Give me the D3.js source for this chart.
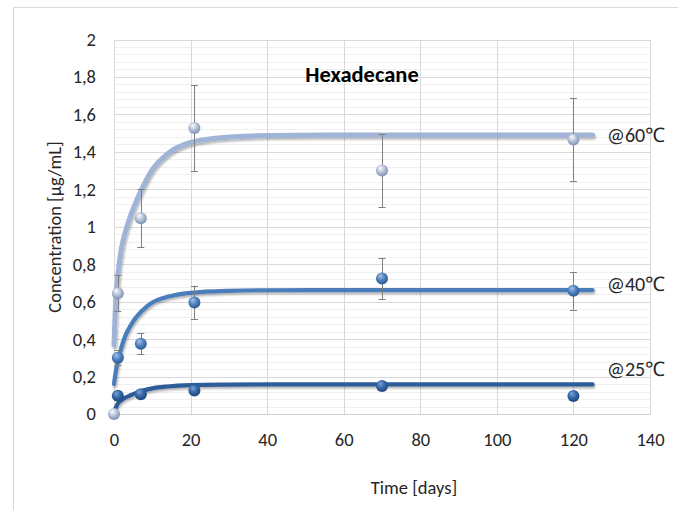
<!DOCTYPE html>
<html>
<head>
<meta charset="utf-8">
<script src="https://cdn.jsdelivr.net/npm/d3@7"></script>
<style>
  body { margin: 0; background: #fff; }
  svg { display: block; font-family: Calibri, Carlito, Lato, "Open Sans", sans-serif; }
</style>
</head>
<body>
<div id="chart"></div>
<script>
// measured points (days, concentration, +/- error)
const days = [0, 1, 7, 21, 70, 120];
const conc60 = [0, 0.645, 1.045, 1.527, 1.30, 1.466];
const err60 = [0, 0.096, 0.155, 0.23, 0.195, 0.22];
const conc40 = [null, 0.30, 0.375, 0.595, 0.724, 0.658];
const err40 = [0, 0.04, 0.055, 0.09, 0.11, 0.10];
const conc25 = [null, 0.097, 0.105, 0.125, 0.149, 0.096];

// fitted curves
const fitDays = [0, 0.5, 1, 2, 3, 4, 5, 7, 10, 14, 20, 30, 40, 60, 125];
const fit60 = [0.37, 0.62, 0.74, 0.89, 0.975, 1.04, 1.095, 1.19, 1.305, 1.39, 1.45, 1.479, 1.487, 1.49, 1.49];
const fit40 = [0.16, 0.23, 0.28, 0.36, 0.42, 0.46, 0.495, 0.545, 0.595, 0.626, 0.647, 0.658, 0.661, 0.662, 0.662];
const fit25 = [0.015, 0.035, 0.055, 0.075, 0.088, 0.097, 0.106, 0.121, 0.137, 0.147, 0.154, 0.157, 0.158, 0.158, 0.158];

const xTicks = [0, 20, 40, 60, 80, 100, 120, 140];
const yTicks = [0, 0.2, 0.4, 0.6, 0.8, 1, 1.2, 1.4, 1.6, 1.8, 2];

const width = 678;
const height = 510;
const plot = { left: 114, right: 650, top: 39.5, bottom: 414 };

const svg = d3.select("#chart")
  .append("svg")
  .attr("width", width)
  .attr("height", height);

const x = d3.scaleLinear().domain([0, 140]).range([plot.left, plot.right]);
const y = d3.scaleLinear().domain([0, 2]).range([plot.bottom, plot.top]);

const fmt = d3.formatLocale({ decimal: ",", thousands: ".", grouping: [3], currency: ["", ""] }).format(".1~f");

const defs = svg.append("defs");
defs.append("filter")
  .attr("id", "shadow")
  .attr("x", "-5%").attr("y", "-20%").attr("width", "110%").attr("height", "140%")
  .append("feDropShadow")
  .attr("dx", 1).attr("dy", 2).attr("stdDeviation", 1.2)
  .attr("flood-color", "#000").attr("flood-opacity", 0.3);

function sphere(id, light, mid, dark) {
  const g = defs.append("radialGradient")
    .attr("id", id)
    .attr("cx", "45%").attr("cy", "40%").attr("r", "60%")
    .attr("fx", "35%").attr("fy", "28%");
  g.append("stop").attr("offset", "0%").attr("stop-color", light);
  g.append("stop").attr("offset", "55%").attr("stop-color", mid);
  g.append("stop").attr("offset", "100%").attr("stop-color", dark);
}
sphere("ball60", "#ffffff", "#b3c0d7", "#7d90b0");
sphere("ball40", "#a9c4ea", "#4f81bd", "#2b5a92");
sphere("ball25", "#7ea3d6", "#3567a6", "#1d4579");

// chart area border
svg.append("rect")
  .attr("x", 13.5).attr("y", 7.5)
  .attr("width", 700).attr("height", 600)
  .attr("fill", "none")
  .attr("stroke", "#d9d9d9");

// minor gridlines
svg.append("g")
  .selectAll("line")
  .data(d3.range(0, 51).map(i => i * 0.04))
  .join("line")
    .attr("x1", plot.left).attr("x2", plot.right)
    .attr("y1", d => Math.round(y(d)) + 0.5).attr("y2", d => Math.round(y(d)) + 0.5)
    .attr("stroke", "#f0f0f0");

// major gridlines
svg.append("g")
  .selectAll("line")
  .data(yTicks)
  .join("line")
    .attr("x1", plot.left).attr("x2", plot.right)
    .attr("y1", d => Math.round(y(d)) + 0.5).attr("y2", d => Math.round(y(d)) + 0.5)
    .attr("stroke", "#d9d9d9");

svg.append("g")
  .selectAll("line")
  .data(xTicks)
  .join("line")
    .attr("x1", d => Math.round(x(d)) + 0.5).attr("x2", d => Math.round(x(d)) + 0.5)
    .attr("y1", plot.top).attr("y2", plot.bottom)
    .attr("stroke", "#d9d9d9");

// axes (labels only)
const xAxis = svg.append("g")
  .attr("transform", `translate(0,${plot.bottom})`)
  .call(d3.axisBottom(x).tickValues(xTicks).tickSize(0).tickPadding(19).tickFormat(d3.format("d")));
xAxis.select(".domain").attr("stroke", "#d0d0d0");

const yAxis = svg.append("g")
  .attr("transform", `translate(${plot.left},0)`)
  .call(d3.axisLeft(y).tickValues(yTicks).tickSize(0).tickPadding(18).tickFormat(fmt));
yAxis.select(".domain").remove();

svg.selectAll(".tick text")
  .attr("font-family", "Calibri, Carlito, Lato, sans-serif")
  .attr("font-size", 18.5)
  .attr("fill", "#262626");

// fitted curves
const line = d3.line()
  .x(d => x(d[0]))
  .y(d => y(d[1]))
  .curve(d3.curveMonotoneX);

const fits = [
  { values: fit60, color: "#9fb4d6", w: 5 },
  { values: fit40, color: "#4a7ebb", w: 4.2 },
  { values: fit25, color: "#2e5c98", w: 4.2 }
];

svg.append("g")
  .selectAll("path")
  .data(fits)
  .join("path")
    .attr("d", f => line(fitDays.map((d, i) => [d, f.values[i]])))
    .attr("fill", "none")
    .attr("stroke", f => f.color)
    .attr("stroke-width", f => f.w)
    .attr("stroke-linecap", "round")
    .attr("filter", "url(#shadow)");

// error bars
const bars = [];
days.forEach((d, i) => {
  if (err60[i] > 0) bars.push({ d, v: conc60[i], e: err60[i] });
  if (conc40[i] != null && err40[i] > 0) bars.push({ d, v: conc40[i], e: err40[i] });
});

const eb = svg.append("g").attr("stroke", "#7f7f7f").attr("stroke-width", 1);
eb.selectAll("line.v")
  .data(bars)
  .join("line")
    .attr("class", "v")
    .attr("x1", b => Math.round(x(b.d)) + 0.5).attr("x2", b => Math.round(x(b.d)) + 0.5)
    .attr("y1", b => y(b.v + b.e)).attr("y2", b => y(b.v - b.e));
eb.selectAll("line.cap")
  .data(bars.flatMap(b => [b.v + b.e, b.v - b.e].map(v => ({ d: b.d, v }))))
  .join("line")
    .attr("class", "cap")
    .attr("x1", b => x(b.d) - 3.5).attr("x2", b => x(b.d) + 3.5)
    .attr("y1", b => Math.round(y(b.v)) + 0.5).attr("y2", b => Math.round(y(b.v)) + 0.5);

// markers
const series = [
  { values: conc25, fill: "url(#ball25)" },
  { values: conc40, fill: "url(#ball40)" },
  { values: conc60, fill: "url(#ball60)" }
];
series.forEach(s => {
  svg.append("g")
    .selectAll("circle")
    .data(days.map((d, i) => [d, s.values[i]]).filter(p => p[1] != null))
    .join("circle")
      .attr("cx", p => x(p[0]))
      .attr("cy", p => y(p[1]))
      .attr("r", 6)
      .attr("fill", s.fill);
});

// series labels
const labels = [
  { text: "@60℃", v: 1.49 },
  { text: "@40℃", v: 0.695 },
  { text: "@25℃", v: 0.24 }
];
svg.append("g")
  .selectAll("text")
  .data(labels)
  .join("text")
    .attr("x", 607)
    .attr("y", l => y(l.v))
    .attr("dy", "0.35em")
    .attr("font-size", 20)
    .attr("fill", "#262626")
    .text(l => l.text);

// title
svg.append("text")
  .attr("x", 362).attr("y", 82)
  .attr("text-anchor", "middle")
  .attr("font-size", 22.5)
  .attr("font-weight", "bold")
  .attr("fill", "#000")
  .text("Hexadecane");

// axis titles
svg.append("text")
  .attr("x", 414).attr("y", 494)
  .attr("text-anchor", "middle")
  .attr("font-size", 18.5)
  .attr("fill", "#262626")
  .text("Time [days]");

svg.append("text")
  .attr("transform", "translate(61,227) rotate(-90)")
  .attr("text-anchor", "middle")
  .attr("font-size", 18.5)
  .attr("fill", "#262626")
  .text("Concentration [µg/mL]");
</script>
</body>
</html>
